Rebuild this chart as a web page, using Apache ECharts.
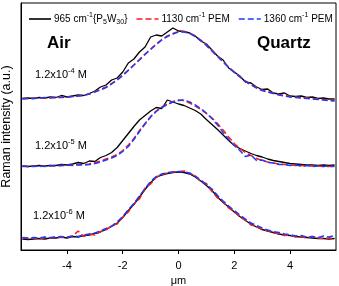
<!DOCTYPE html>
<html>
<head>
<meta charset="utf-8">
<script src="https://cdn.jsdelivr.net/npm/echarts@6/dist/echarts.min.js"></script>
<style>
html,body{margin:0;padding:0;background:#fff;}
#c{width:339px;height:286px;}
</style>
</head>
<body>
<div id="c"></div>
<script>
// positions along the scan (μm)
var xPos = [-5.6,-5.4,-5.2,-5.0,-4.8,-4.6,-4.4,-4.2,-4.0,-3.8,-3.6,-3.4,-3.2,-3.0,-2.8,-2.6,-2.4,-2.2,-2.0,-1.8,-1.6,-1.4,-1.2,-1.0,-0.8,-0.6,-0.4,-0.2,0,0.2,0.4,0.6,0.8,1.0,1.2,1.4,1.6,1.8,2.0,2.2,2.4,2.6,2.8,3.0,3.2,3.4,3.6,3.8,4.0,4.2,4.4,4.6,4.8,5.0,5.2,5.4,5.6];

// top profile (1.2x10^-4 M), offset intensity
var topBlack = [151.5,152,151.5,152.5,152,153,152.5,154.5,153,154,155,154.5,156.5,159,163,165,170,172,178,187,191,198,203,213,215,214,218,222,219,218.5,217,214,209,206,200,194,190,182,178,174,168,167,163,160.5,161,157,156,157,154,153.5,154,152.5,153,151.5,152,151,151];
var topRed = [151.5,151.5,152,152,152,152.5,152.5,153,153,153.5,154,155,156,158.5,160.5,163,166.5,170.5,175,180,185,190.5,196,201,206,210.5,214,216.5,218.5,218.5,217,214,210,205,199.5,194,188.5,183,178,173.5,169,165.5,162.5,160,158.5,157,155.5,154.5,153.5,153,152.5,152,151.5,151,150.5,150,149.5];
var topBlue = [151,151.5,151.5,152,152.5,152,152.5,152.5,153,153.5,154,154.5,156,158,160,162.5,166,170,174.5,179.5,185,190,195.5,200.5,205.5,210,213.5,216,218,218,216.5,213.5,209.5,204.5,199,193.5,188,182.5,177.5,173,168.5,165,162,159.5,158,156.5,155,154,153,152.5,152,151.5,151,150.5,150,149.5,149];

// middle profile (1.2x10^-5 M)
var midBlack = [84,83.5,84,84.5,84,84.5,84.5,85.5,85,86,87.5,86.5,89,88.5,92.5,94.5,97.5,102.5,109.5,116.5,123.5,130,134.5,139,142.5,141.5,150,148,146,144.5,142,139.5,136,130.5,125.5,120.5,115,109.5,104.5,101.5,99,96.5,94.5,93,91,89.5,88.5,87.5,86.5,86,85.5,85,85,84.5,85,84.5,85];
var midRed = [83.5,83.5,84,83.5,84,84,84.5,84.5,84.5,85,85,85.5,86,87.5,89,91,93,95.5,99.5,105,111.5,119.5,126.5,133.5,139,143,146,148.5,150,149.5,147,144,140.5,136.5,132,126.5,120,113,106.5,101.5,97.5,94.5,91.5,89.5,88,87,86,85.5,85,84.5,84.5,84,84,84,83.5,83.5,83.5];
var midBlue = [84,83.5,83.5,84,83.5,84.5,84,84.5,85,84.5,85.5,85,85.5,86.5,88,90,92,94.5,98.5,103.5,110.5,118.5,126,133,138.5,142.5,145.5,148,149.5,150,148,145,141.5,137,131.5,125,117.5,110.5,104.5,99.5,93.5,95,89.5,90,87.5,87,85.5,85.5,84.5,85,84,84.5,83.5,84,83.5,84,83.5];

// bottom profile (1.2x10^-6 M)
var botBlack = [11,10.5,11,11.5,11,12,12,13,12,13.5,13,14.5,15,16.5,18,20.5,23.5,27,32.5,39.5,45.5,53,60.5,67.5,72.5,75,76.5,77.5,78,77.5,76,73,69,64.5,59.5,53,47.5,43,38,33.5,29.5,26,23,20.5,19,17.5,16,15,14.5,13.5,13,12.5,12,11.5,11.5,11,11.5];
var botRed = [12,11.5,12,11,12.5,12,13,12.5,13,14,19,13.5,16,15,18.5,20,24.5,26,33,38,46.5,51,62,66,73,75.5,77,78,78.5,79,76.5,74.5,68,66.5,58.5,52,48,42,38.5,33,30,25,23.5,20,19.5,17,16.5,14.5,15,13,13.5,12,13.5,12,11.5,12,11.5];
var botBlue = [12.5,12,12.5,12,13,12.5,13,13.5,12.5,14,13.5,15,16,17,19,21.5,24,28,33.5,40.5,46.5,54,61.5,68.5,73.5,76,77.5,78,78.5,78,77,74,70,65.5,61,54.5,49,44,39.5,35,31,27,24.5,22,20,18.5,17.5,16,15.5,14,14.5,13,13.5,12.5,14,13,14.5];

var xTicks = [-4,-2,0,2,4];
var seriesNames = ['black', 'red', 'blue'];
var legendLabels = {
  black: '{t|965 cm}{sup|-1}{t|{P}{sub|5}{t|W}{sub|30}{t|\u007d}',
  red: '{t|1130 cm}{sup|-1}{t| PEM}',
  blue: '{t|1360 cm}{sup|-1}{t| PEM}'
};
var concLabels = ['-4', '-5', '-6'];

function pairs(ys){ return xPos.map(function(x,i){ return [x, ys[i]]; }); }

var FONT = '"Liberation Sans", Arial, sans-serif';
var colors = {black:'#000000', red:'#ff1a1a', blue:'#1a3cff'};
var solidIcon = 'path://M0,0h22v2h-22z';
var dashIcon = 'path://M0,0h6v2h-6z M9,0h6v2h-6z M18,0h4v2h-4z';

function mk(name, ys){
  var isBlack = name === 'black';
  return {
    name: name, type: 'line', data: pairs(ys), symbol: 'none', showSymbol: false, animation: false,
    z: isBlack ? 3 : (name === 'red' ? 4 : 5),
    lineStyle: {color: colors[name], width: isBlack ? 1.3 : 1.5, type: isBlack ? 'solid' : [6, 3]},
    itemStyle: {color: colors[name]}
  };
}

var series = [
  mk('black', topBlack), mk('red', topRed), mk('blue', topBlue),
  mk('black', midBlack), mk('red', midRed), mk('blue', midBlue),
  mk('black', botBlack), mk('red', botRed), mk('blue', botBlue)
];

var richBase = {
  t: {fontSize: 10, fontFamily: FONT, color: '#000', lineHeight: 14},
  sup: {fontSize: 7, fontFamily: FONT, color: '#000', lineHeight: 14, padding: [0,0,7,0]},
  sub: {fontSize: 7, fontFamily: FONT, color: '#000', lineHeight: 14, padding: [6,0,0,0]}
};

function concText(i){
  return '{a|1.2x10}{s|' + concLabels[i] + '}{a| M}';
}
var concRich = {
  a: {fontSize: 11, fontFamily: FONT, fill: '#000', lineHeight: 16},
  s: {fontSize: 7.5, fontFamily: FONT, fill: '#000', lineHeight: 16, padding: [0,0,8,0]}
};

var chart = echarts.init(document.getElementById('c'), null, {renderer: 'canvas'});
chart.setOption({
  backgroundColor: '#fff',
  animation: false,
  grid: {left: 21, right: 3, top: 3, bottom: 36, show: true, borderColor: '#000', borderWidth: 1,
    backgroundColor: 'transparent', outerBoundsMode: 'none', containLabel: false},
  legend: {
    data: [
      {name: 'black', icon: solidIcon},
      {name: 'red', icon: dashIcon},
      {name: 'blue', icon: dashIcon}
    ],
    top: 7, left: 24, width: 315, itemWidth: 22, itemHeight: 1.6, itemGap: 9,
    symbolKeepAspect: false,
    formatter: function(n){ return legendLabels[n]; },
    textStyle: {rich: richBase, fontSize: 10, fontFamily: FONT, color: '#000', padding: [0,0,0,-2]},
    selectedMode: false
  },
  xAxis: {
    type: 'value', min: -5.65, max: 5.65,
    name: 'μm', nameLocation: 'middle', nameGap: 18,
    nameTextStyle: {fontSize: 11, fontFamily: FONT, color: '#000'},
    axisLine: {show: true, onZero: false, lineStyle: {color: '#000', width: 1}},
    axisTick: {show: true, inside: false, length: 4, customValues: xTicks, lineStyle: {color: '#000'}},
    axisLabel: {show: true, customValues: xTicks, margin: 10, fontSize: 11, fontFamily: FONT, color: '#000'},
    splitLine: {show: false}
  },
  yAxis: {
    type: 'value', min: 0, max: 247,
    name: 'Raman intensity (a.u.)', nameLocation: 'middle', nameGap: 8, nameRotate: 90,
    nameTextStyle: {fontSize: 12.5, fontFamily: FONT, color: '#000'},
    axisLine: {show: true, onZero: false, lineStyle: {color: '#000', width: 1}},
    axisTick: {show: false}, axisLabel: {show: false}, splitLine: {show: false}
  },
  series: series,
  graphic: [
    {type: 'text', left: 47, top: 35, style: {text: 'Air', font: 'bold 17px ' + FONT, fill: '#000'}},
    {type: 'text', left: 257, top: 35, style: {text: 'Quartz', font: 'bold 17px ' + FONT, fill: '#000'}},
    {type: 'text', left: 35, top: 67, style: {text: concText(0), rich: concRich}},
    {type: 'text', left: 35, top: 138, style: {text: concText(1), rich: concRich}},
    {type: 'text', left: 33, top: 208, style: {text: concText(2), rich: concRich}}
  ]
});
</script>
</body>
</html>
